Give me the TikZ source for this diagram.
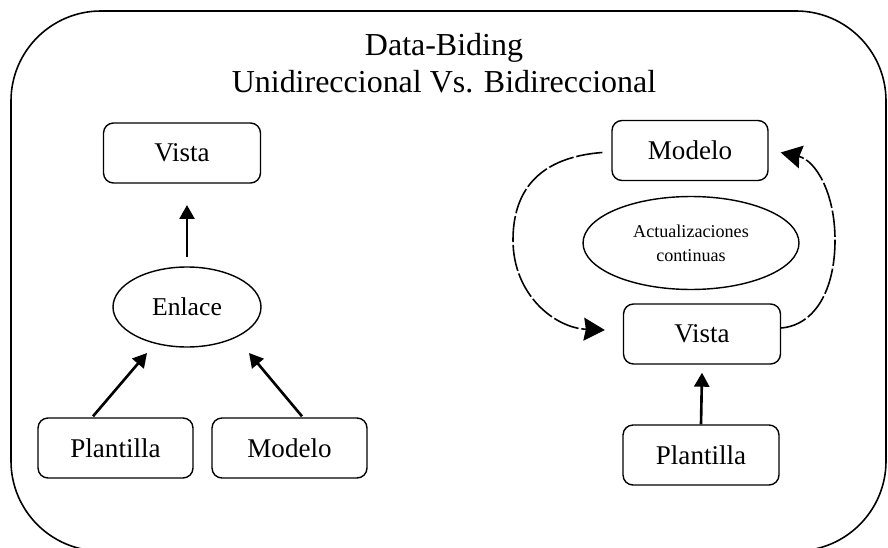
\documentclass[tikz,border=0pt]{standalone}
\usepackage{fontspec}
\setmainfont{Liberation Serif}
\usetikzlibrary{arrows.meta, shapes.geometric, calc}

\begin{document}
\begin{tikzpicture}[x=0.02cm, y=-0.02cm,
    caja/.style={draw, line width=0.8pt, rounded corners=0.2cm, minimum width=3.14cm, minimum height=1.2cm, font=\fontsize{15.4}{18}\selectfont},
    elipse/.style={draw, ellipse, line width=0.8pt, inner sep=0pt},
    flecha/.style={line width=1.5pt, -{Triangle[length=0.28cm, width=0.3cm]}},
    flechadash/.style={line width=0.9pt, dash pattern=on 15pt off 1.6pt, -{Stealth[length=0.42cm, width=0.46cm, inset=0.04cm]}}]

        \useasboundingbox (0,0) rectangle (888,547);

        % Draw the frame
        \draw[line width=0.9pt, rounded corners=1.8cm] (11,11) rectangle (886,551);

        % Draw the title
        \node[align=center, font=\fontsize{18.2}{21}\selectfont] (titulo) at (444,63) {Data-Biding\\Unidireccional Vs. Bidireccional};

        % Draw the one-way side
        \node[caja] (vistaL) at (182,153) {Vista};
        \node[elipse, minimum width=2.96cm, minimum height=1.6cm, font=\fontsize{14.6}{17}\selectfont] (enlace) at (187,307) {Enlace};
        \node[caja, minimum width=3.1cm] (plantillaL) at (115.5,448) {Plantilla};
        \node[caja, minimum width=3.1cm] (modeloL) at (289.5,448) {Modelo};

        \draw[flecha] ($(enlace.center)+(0,-50)$) -- ($(enlace.center)+(0,-102)$);
        \draw[flecha] ($(plantillaL.north)+(-22.5,-1)$) -- ($(enlace.center)+(-40,46)$);
        \draw[flecha] ($(modeloL.north)+(12.5,-1)$) -- ($(enlace.center)+(62,46)$);

        % Draw the two-way side
        \node[caja, minimum width=3.12cm] (modeloR) at (690,150.5) {Modelo};
        \node[elipse, minimum width=4.32cm, minimum height=1.86cm, align=center, font=\fontsize{10.3}{13.6}\selectfont] (actual) at (691,243) {Actualizaciones\\continuas};
        \node[caja] (vistaR) at (702,334) {Vista};
        \node[caja, minimum width=3.12cm] (plantillaR) at (701,455) {Plantilla};

        \draw[flecha] (plantillaR.north) -- ($(vistaR.south)+(0,8)$);

        % Draw the update loop
        \draw[flechadash] ($(modeloR.west)+(-9,2)$) .. controls (530,158) and (513,200) .. (513,240)
            .. controls (513,295) and (555,328) .. ($(vistaR.west)+(-18,-4)$);
        \draw[flechadash] ($(vistaR.east)+(0,-6)$) .. controls (815,325) and (835,290) .. (835,240)
            .. controls (835,192) and (815,160) .. ($(modeloR.east)+(12,2)$);

\end{tikzpicture}
\end{document}
